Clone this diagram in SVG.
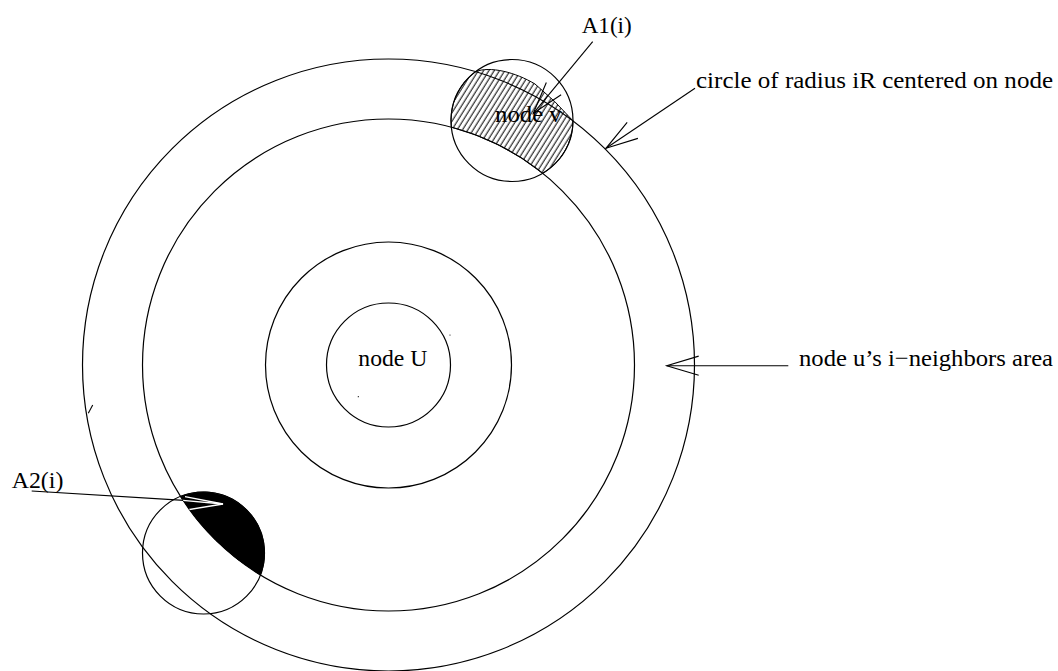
<svg xmlns="http://www.w3.org/2000/svg" width="1058" height="671" viewBox="0 0 1058 671">
<style>
.c{fill:none;stroke:#000;stroke-width:1.2}
.ln{fill:none;stroke:#000;stroke-width:1.1}
.t{font-family:"Liberation Serif","Times New Roman",serif;font-size:24px;fill:#000}
</style>
<defs>
<pattern id="hatch" patternUnits="userSpaceOnUse" width="4.5" height="10" patternTransform="rotate(32)">
<line x1="2" y1="0" x2="2" y2="10" stroke="#000" stroke-width="1"/>
</pattern>
<marker id="arr" markerWidth="40" markerHeight="24" refX="36" refY="12" orient="auto" markerUnits="userSpaceOnUse" viewBox="0 0 40 24" overflow="visible">
<path d="M4,2.4 L36,12 L4,21.6" fill="none" stroke="#000" stroke-width="1.1"/>
</marker>
<clipPath id="clipA2">
<path d="M180.57,496.46 A61,61 0 0 1 260.41,575.02 A246,246 0 0 1 180.57,496.46 Z"/>
</clipPath>
</defs>
<g id="rings">
<circle class="c" cx="388.5" cy="365" r="306"/>
<circle class="c" cx="388.5" cy="365" r="246"/>
<circle class="c" cx="388.5" cy="365" r="123"/>
</g>
<g id="node-u">
<circle class="c" cx="388.5" cy="365" r="62"/>
<text class="t" x="358.3" y="366" textLength="69" lengthAdjust="spacingAndGlyphs">node U</text>
</g>
<g id="area-a1">
<path d="M475.52,71.63 C490,66 515,72 535,84 A306,306 0 0 1 572.98,120.87 A61,61 0 0 1 542.62,173.27 A246,246 0 0 0 451.36,127.17 A61,61 0 0 1 475.52,71.63 Z" fill="url(#hatch)" stroke="#000" stroke-width="1"/>
</g>
<g id="node-v">
<circle class="c" cx="512" cy="120.5" r="61"/>
<text class="t" x="495" y="121.7" textLength="66.7" lengthAdjust="spacingAndGlyphs">node v</text>
</g>
<g id="node-v2">
<circle class="c" cx="203.5" cy="553" r="61"/>
</g>
<g id="connectors">
<line class="ln" x1="592.7" y1="41.7" x2="533.3" y2="113.3" marker-end="url(#arr)"/>
<line class="ln" x1="695" y1="88.3" x2="606" y2="148.3" marker-end="url(#arr)"/>
<line class="ln" x1="788.3" y1="365.7" x2="666.7" y2="365.7" marker-end="url(#arr)"/>
<line class="ln" x1="31.7" y1="491" x2="184" y2="500.4"/>
</g>
<g id="area-a2">
<path d="M180.57,496.46 A61,61 0 0 1 260.41,575.02 A246,246 0 0 1 180.57,496.46 Z" fill="#000" stroke="#000" stroke-width="1"/>
<g clip-path="url(#clipA2)" fill="none" stroke="#fff" stroke-width="1.3">
<line x1="178" y1="500" x2="223" y2="504"/>
<polyline points="185,496.7 223,504 186.7,510"/>
</g>
</g>
<g id="marks" class="ln">
<line x1="92.7" y1="405" x2="88.3" y2="413.3"/>
<circle cx="450" cy="335" r="0.6" fill="#000" stroke="none"/>
<circle cx="358.3" cy="396.7" r="0.6" fill="#000" stroke="none"/>
</g>
<g id="labels">
<text class="t" x="581.7" y="33.3" textLength="50" lengthAdjust="spacingAndGlyphs">A1(i)</text>
<text class="t" x="696" y="88.3" textLength="357" lengthAdjust="spacingAndGlyphs">circle of radius iR centered on node</text>
<text class="t" x="799" y="365.7" textLength="254" lengthAdjust="spacingAndGlyphs">node u’s i−neighbors area</text>
<text class="t" x="11.7" y="488.3" textLength="51.7" lengthAdjust="spacingAndGlyphs">A2(i)</text>
</g>
</svg>
